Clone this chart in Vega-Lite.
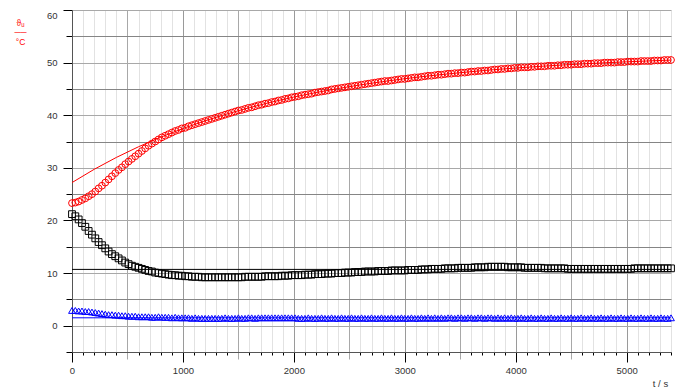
{
  "$schema": "https://vega.github.io/schema/vega-lite/v6.json",
  "width": 599,
  "height": 342,
  "autosize": "none",
  "padding": {"left": 72, "top": 10, "right": 10, "bottom": 37},
  "background": "white",
  "config": {
    "view": {"stroke": null},
    "font": "Liberation Sans",
    "axis": {"labelColor": "#333", "labelFontSize": 9.5, "labelFont": "Liberation Sans", "domainColor": "#555", "domainWidth": 1}
  },
  "datasets": {
    "meas": [
      {"t":0,"r":23.3,"k":21.2,"b":2.9},{"t":30,"r":23.4,"k":20.8,"b":2.9},{"t":60,"r":23.6,"k":20.2,"b":2.8},{"t":90,"r":23.9,"k":19.5,"b":2.8},{"t":120,"r":24.2,"k":18.8,"b":2.7},{"t":150,"r":24.6,"k":18.0,"b":2.7},{"t":180,"r":25.0,"k":17.3,"b":2.6},{"t":210,"r":25.5,"k":16.6,"b":2.5},{"t":240,"r":26.1,"k":15.9,"b":2.4},{"t":270,"r":26.6,"k":15.3,"b":2.3},
      {"t":300,"r":27.2,"k":14.7,"b":2.2},{"t":330,"r":27.8,"k":14.1,"b":2.1},{"t":360,"r":28.4,"k":13.6,"b":2.1},{"t":390,"r":29.0,"k":13.2,"b":2.0},{"t":420,"r":29.6,"k":12.8,"b":2.0},{"t":450,"r":30.1,"k":12.4,"b":1.9},{"t":480,"r":30.7,"k":12.0,"b":1.9},{"t":510,"r":31.2,"k":11.7,"b":1.8},{"t":540,"r":31.7,"k":11.4,"b":1.8},{"t":570,"r":32.2,"k":11.2,"b":1.8},
      {"t":600,"r":32.7,"k":11.0,"b":1.7},{"t":630,"r":33.2,"k":10.8,"b":1.7},{"t":660,"r":33.7,"k":10.6,"b":1.7},{"t":690,"r":34.2,"k":10.4,"b":1.7},{"t":720,"r":34.6,"k":10.3,"b":1.6},{"t":750,"r":35.0,"k":10.1,"b":1.6},{"t":780,"r":35.4,"k":10.0,"b":1.7},{"t":810,"r":35.8,"k":9.9,"b":1.6},{"t":840,"r":36.1,"k":9.8,"b":1.6},{"t":870,"r":36.4,"k":9.7,"b":1.6},
      {"t":900,"r":36.7,"k":9.6,"b":1.5},{"t":930,"r":37.0,"k":9.6,"b":1.6},{"t":960,"r":37.2,"k":9.5,"b":1.5},{"t":990,"r":37.5,"k":9.5,"b":1.5},{"t":1020,"r":37.6,"k":9.4,"b":1.5},{"t":1050,"r":37.9,"k":9.4,"b":1.5},{"t":1080,"r":38.1,"k":9.3,"b":1.4},{"t":1110,"r":38.3,"k":9.3,"b":1.5},{"t":1140,"r":38.5,"k":9.3,"b":1.4},{"t":1170,"r":38.7,"k":9.2,"b":1.4},
      {"t":1200,"r":38.9,"k":9.2,"b":1.4},{"t":1230,"r":39.1,"k":9.2,"b":1.4},{"t":1260,"r":39.3,"k":9.2,"b":1.4},{"t":1290,"r":39.5,"k":9.2,"b":1.4},{"t":1320,"r":39.7,"k":9.2,"b":1.4},{"t":1350,"r":39.9,"k":9.2,"b":1.4},{"t":1380,"r":40.1,"k":9.2,"b":1.5},{"t":1410,"r":40.3,"k":9.2,"b":1.4},{"t":1440,"r":40.5,"k":9.2,"b":1.4},{"t":1470,"r":40.7,"k":9.2,"b":1.4},
      {"t":1500,"r":40.9,"k":9.2,"b":1.5},{"t":1530,"r":41.0,"k":9.2,"b":1.4},{"t":1560,"r":41.2,"k":9.3,"b":1.4},{"t":1590,"r":41.4,"k":9.3,"b":1.5},{"t":1620,"r":41.5,"k":9.3,"b":1.5},{"t":1650,"r":41.7,"k":9.3,"b":1.4},{"t":1680,"r":41.9,"k":9.3,"b":1.5},{"t":1710,"r":42.0,"k":9.3,"b":1.5},{"t":1740,"r":42.2,"k":9.4,"b":1.5},{"t":1770,"r":42.3,"k":9.4,"b":1.5},
      {"t":1800,"r":42.5,"k":9.4,"b":1.5},{"t":1830,"r":42.6,"k":9.4,"b":1.5},{"t":1860,"r":42.8,"k":9.4,"b":1.5},{"t":1890,"r":42.9,"k":9.5,"b":1.5},{"t":1920,"r":43.1,"k":9.5,"b":1.5},{"t":1950,"r":43.2,"k":9.5,"b":1.5},{"t":1980,"r":43.4,"k":9.6,"b":1.5},{"t":2010,"r":43.5,"k":9.6,"b":1.5},{"t":2040,"r":43.6,"k":9.6,"b":1.4},{"t":2070,"r":43.8,"k":9.6,"b":1.4},
      {"t":2100,"r":43.9,"k":9.7,"b":1.4},{"t":2130,"r":44.0,"k":9.7,"b":1.5},{"t":2160,"r":44.1,"k":9.7,"b":1.4},{"t":2190,"r":44.3,"k":9.8,"b":1.4},{"t":2220,"r":44.4,"k":9.8,"b":1.4},{"t":2250,"r":44.5,"k":9.8,"b":1.5},{"t":2280,"r":44.6,"k":9.9,"b":1.4},{"t":2310,"r":44.7,"k":9.9,"b":1.4},{"t":2340,"r":44.9,"k":9.9,"b":1.5},{"t":2370,"r":45.0,"k":10.0,"b":1.4},
      {"t":2400,"r":45.1,"k":10.0,"b":1.4},{"t":2430,"r":45.2,"k":10.0,"b":1.5},{"t":2460,"r":45.3,"k":10.1,"b":1.4},{"t":2490,"r":45.4,"k":10.1,"b":1.4},{"t":2520,"r":45.5,"k":10.1,"b":1.5},{"t":2550,"r":45.6,"k":10.2,"b":1.4},{"t":2580,"r":45.7,"k":10.2,"b":1.4},{"t":2610,"r":45.8,"k":10.2,"b":1.5},{"t":2640,"r":45.9,"k":10.3,"b":1.4},{"t":2670,"r":46.0,"k":10.3,"b":1.4},
      {"t":2700,"r":46.1,"k":10.3,"b":1.5},{"t":2730,"r":46.2,"k":10.3,"b":1.4},{"t":2760,"r":46.3,"k":10.4,"b":1.4},{"t":2790,"r":46.4,"k":10.4,"b":1.5},{"t":2820,"r":46.5,"k":10.4,"b":1.4},{"t":2850,"r":46.5,"k":10.4,"b":1.4},{"t":2880,"r":46.6,"k":10.5,"b":1.5},{"t":2910,"r":46.7,"k":10.5,"b":1.4},{"t":2940,"r":46.8,"k":10.5,"b":1.4},{"t":2970,"r":46.9,"k":10.5,"b":1.5},
      {"t":3000,"r":46.9,"k":10.5,"b":1.4},{"t":3030,"r":47.0,"k":10.6,"b":1.4},{"t":3060,"r":47.1,"k":10.6,"b":1.5},{"t":3090,"r":47.2,"k":10.6,"b":1.4},{"t":3120,"r":47.2,"k":10.6,"b":1.4},{"t":3150,"r":47.3,"k":10.7,"b":1.5},{"t":3180,"r":47.4,"k":10.7,"b":1.4},{"t":3210,"r":47.5,"k":10.7,"b":1.5},{"t":3240,"r":47.5,"k":10.8,"b":1.4},{"t":3270,"r":47.6,"k":10.8,"b":1.5},
      {"t":3300,"r":47.7,"k":10.8,"b":1.4},{"t":3330,"r":47.7,"k":10.8,"b":1.5},{"t":3360,"r":47.8,"k":10.9,"b":1.4},{"t":3390,"r":47.9,"k":10.9,"b":1.5},{"t":3420,"r":47.9,"k":10.9,"b":1.5},{"t":3450,"r":48.0,"k":10.9,"b":1.4},{"t":3480,"r":48.0,"k":11.0,"b":1.5},{"t":3510,"r":48.1,"k":11.0,"b":1.5},{"t":3540,"r":48.1,"k":11.0,"b":1.4},{"t":3570,"r":48.2,"k":11.0,"b":1.5},
      {"t":3600,"r":48.3,"k":11.0,"b":1.5},{"t":3630,"r":48.3,"k":11.1,"b":1.4},{"t":3660,"r":48.4,"k":11.1,"b":1.5},{"t":3690,"r":48.4,"k":11.1,"b":1.5},{"t":3720,"r":48.5,"k":11.1,"b":1.4},{"t":3750,"r":48.5,"k":11.2,"b":1.5},{"t":3780,"r":48.6,"k":11.2,"b":1.5},{"t":3810,"r":48.7,"k":11.2,"b":1.4},{"t":3840,"r":48.7,"k":11.2,"b":1.5},{"t":3870,"r":48.8,"k":11.2,"b":1.4},
      {"t":3900,"r":48.8,"k":11.2,"b":1.5},{"t":3930,"r":48.9,"k":11.1,"b":1.4},{"t":3960,"r":48.9,"k":11.1,"b":1.5},{"t":3990,"r":49.0,"k":11.1,"b":1.4},{"t":4020,"r":49.0,"k":11.1,"b":1.4},{"t":4050,"r":49.1,"k":11.1,"b":1.5},{"t":4080,"r":49.1,"k":11.0,"b":1.4},{"t":4110,"r":49.1,"k":11.0,"b":1.4},{"t":4140,"r":49.2,"k":11.0,"b":1.5},{"t":4170,"r":49.2,"k":11.0,"b":1.4},
      {"t":4200,"r":49.3,"k":11.0,"b":1.4},{"t":4230,"r":49.3,"k":11.0,"b":1.5},{"t":4260,"r":49.3,"k":10.9,"b":1.4},{"t":4290,"r":49.4,"k":10.9,"b":1.4},{"t":4320,"r":49.4,"k":10.9,"b":1.5},{"t":4350,"r":49.4,"k":10.9,"b":1.4},{"t":4380,"r":49.5,"k":10.9,"b":1.4},{"t":4410,"r":49.5,"k":10.9,"b":1.5},{"t":4440,"r":49.6,"k":10.9,"b":1.4},{"t":4470,"r":49.6,"k":10.8,"b":1.4},
      {"t":4500,"r":49.6,"k":10.8,"b":1.5},{"t":4530,"r":49.7,"k":10.8,"b":1.4},{"t":4560,"r":49.7,"k":10.8,"b":1.4},{"t":4590,"r":49.7,"k":10.8,"b":1.5},{"t":4620,"r":49.8,"k":10.8,"b":1.4},{"t":4650,"r":49.8,"k":10.8,"b":1.4},{"t":4680,"r":49.8,"k":10.8,"b":1.5},{"t":4710,"r":49.9,"k":10.8,"b":1.4},{"t":4740,"r":49.9,"k":10.8,"b":1.4},{"t":4770,"r":49.9,"k":10.8,"b":1.5},
      {"t":4800,"r":50.0,"k":10.8,"b":1.4},{"t":4830,"r":50.0,"k":10.8,"b":1.4},{"t":4860,"r":50.0,"k":10.8,"b":1.5},{"t":4890,"r":50.0,"k":10.8,"b":1.4},{"t":4920,"r":50.1,"k":10.8,"b":1.4},{"t":4950,"r":50.1,"k":10.8,"b":1.5},{"t":4980,"r":50.1,"k":10.8,"b":1.4},{"t":5010,"r":50.2,"k":10.8,"b":1.4},{"t":5040,"r":50.2,"k":10.8,"b":1.5},{"t":5070,"r":50.2,"k":10.9,"b":1.4},
      {"t":5100,"r":50.2,"k":10.9,"b":1.4},{"t":5130,"r":50.3,"k":10.9,"b":1.5},{"t":5160,"r":50.3,"k":10.9,"b":1.4},{"t":5190,"r":50.3,"k":10.9,"b":1.4},{"t":5220,"r":50.3,"k":10.9,"b":1.5},{"t":5250,"r":50.4,"k":10.9,"b":1.4},{"t":5280,"r":50.4,"k":10.9,"b":1.4},{"t":5310,"r":50.4,"k":10.9,"b":1.5},{"t":5340,"r":50.5,"k":10.9,"b":1.4},{"t":5370,"r":50.5,"k":10.9,"b":1.4},
      {"t":5400,"r":50.5,"k":10.9,"b":1.5}
    ],
    "lines": [
      {"s":"r","t":0,"v":27.2},{"s":"r","t":200,"v":29.72},{"s":"r","t":400,"v":31.98},{"s":"r","t":600,"v":34.01},{"s":"r","t":800,"v":35.83},{"s":"r","t":1000,"v":37.47},{"s":"r","t":1200,"v":38.94},{"s":"r","t":1400,"v":40.26},{"s":"r","t":1600,"v":41.44},{"s":"r","t":1800,"v":42.5},{"s":"r","t":2000,"v":43.46},{"s":"r","t":2200,"v":44.31},{"s":"r","t":2400,"v":45.08},{"s":"r","t":2600,"v":45.77},{"s":"r","t":2800,"v":46.39},{"s":"r","t":3000,"v":46.94},{"s":"r","t":3200,"v":47.44},{"s":"r","t":3400,"v":47.88},{"s":"r","t":3600,"v":48.28},{"s":"r","t":3800,"v":48.65},{"s":"r","t":4000,"v":48.97},{"s":"r","t":4200,"v":49.26},{"s":"r","t":4400,"v":49.52},{"s":"r","t":4600,"v":49.75},{"s":"r","t":4800,"v":49.96},{"s":"r","t":5000,"v":50.15},{"s":"r","t":5200,"v":50.32},{"s":"r","t":5400,"v":50.48},
      {"s":"k","t":0,"v":10.7},{"s":"k","t":5400,"v":10.7},
      {"s":"b","t":0,"v":1.5},{"s":"b","t":5400,"v":1.5}
    ]
  },
  "encoding": {
    "x": {
      "field": "t", "type": "quantitative",
      "scale": {"domain": [0, 5400], "nice": false, "zero": false},
      "axis": {
        "values": [0,100,200,300,400,500,600,700,800,900,1000,1100,1200,1300,1400,1500,1600,1700,1800,1900,2000,2100,2200,2300,2400,2500,2600,2700,2800,2900,3000,3100,3200,3300,3400,3500,3600,3700,3800,3900,4000,4100,4200,4300,4400,4500,4600,4700,4800,4900,5000,5100,5200,5300,5400],
        "format": "d",
        "labelExpr": "datum.value % 1000 === 0 ? datum.label : ''",
        "labelFlush": false,
        "labelOverlap": false,
        "labelPadding": 3,
        "grid": true,
        "gridColor": {"condition": [{"test": "datum.value % 1000 === 0", "value": "#9a9a9a"}, {"test": "datum.value % 500 === 0", "value": "#a8a8a8"}], "value": "#e2e2e2"},
        "tickSize": {"condition": [{"test": "datum.value % 1000 === 0", "value": 10}, {"test": "datum.value % 500 === 0", "value": 7}], "value": 3},
        "tickColor": {"condition": {"test": "datum.value % 1000 !== 0 && datum.value % 500 === 0", "value": "#a8a8a8"}, "value": "#000"},
        "title": "t / s",
        "titleX": 588,
        "titleY": 31,
        "titleAlign": "center",
        "titleBaseline": "middle",
        "titleFontWeight": "normal",
        "titleFontSize": 9.5,
        "titleColor": "#333"
      }
    },
    "y": {
      "field": "v", "type": "quantitative",
      "scale": {"domain": [-5, 60], "nice": false, "zero": false},
      "axis": {
        "values": [-5,0,5,10,15,20,25,30,35,40,45,50,55,60],
        "labelExpr": "datum.value % 10 === 0 ? datum.label : ''",
        "labelFlush": true,
        "labelOverlap": false,
        "labelPadding": 6,
        "grid": true,
        "gridColor": {"condition": {"test": "datum.value % 10 === 0", "value": "#a8a8a8"}, "value": "#858585"},
        "tickSize": {"condition": {"test": "datum.value % 10 === 0", "value": 9}, "value": 6},
        "tickColor": "#000",
        "title": ["ϑᵤ", "──", "°C"],
        "titleAngle": 0,
        "titleX": -52,
        "titleY": 12,
        "titleAlign": "center",
        "titleBaseline": "middle",
        "titleLineHeight": 9.5,
        "titleFontWeight": "normal",
        "titleFontSize": 8.5,
        "titleColor": "#ff0000"
      }
    },
    "color": {"field": "s", "type": "nominal", "scale": {"domain": ["r","k","b"], "range": ["#ff0000","#000000","#0000ff"]}, "legend": null}
  },
  "layer": [
    {
      "data": {"name": "meas"},
      "transform": [{"fold": ["r","k","b"], "as": ["s","v"]}],
      "mark": {"type": "point", "filled": false, "size": 46, "strokeWidth": 1, "opacity": 1},
      "encoding": {
        "shape": {"field": "s", "type": "nominal", "scale": {"domain": ["r","k","b"], "range": ["circle","square","triangle-up"]}, "legend": null}
      }
    },
    {
      "data": {"name": "lines"},
      "mark": {"type": "line", "strokeWidth": 1},
      "encoding": {}
    }
  ]
}
